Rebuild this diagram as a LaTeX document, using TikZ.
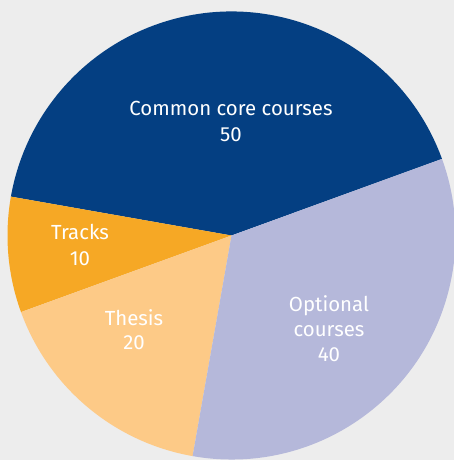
\documentclass[tikz,border=0pt]{standalone}
\usepackage{fontspec}
\setmainfont{Fira Sans}
\definecolor{bg}{RGB}{237,237,237}
\definecolor{navy}{RGB}{4,63,130}
\definecolor{lav}{RGB}{181,184,218}
\definecolor{lorange}{RGB}{253,202,135}
\definecolor{dorange}{RGB}{246,168,37}
\begin{document}
\begin{tikzpicture}[x=1pt,y=1pt,
  slice/.style={draw=none},
  lbl/.style={text=white,font=\fontsize{20.4}{24}\selectfont,anchor=base,inner sep=0pt}]
\useasboundingbox (0,0) rectangle (454,460);
\fill[bg] (0,0) rectangle (454,460);
\coordinate (c) at (231.5,224.5);
\def\R{224}
\begin{scope}
\clip (0,0) rectangle (454,460);
\fill[navy,slice] (c) -- ++(20:\R) arc[start angle=20,end angle=170,radius=\R] -- cycle;
\fill[dorange,slice] (c) -- ++(170:\R) arc[start angle=170,end angle=200,radius=\R] -- cycle;
\fill[lorange,slice] (c) -- ++(200:\R) arc[start angle=200,end angle=260,radius=\R] -- cycle;
\fill[lav,slice] (c) -- ++(260:\R) arc[start angle=260,end angle=380,radius=\R] -- cycle;
\end{scope}
\node[lbl] (core1) at (231,460-116) {Common core courses};
\node[lbl] (core2) at (231,460-141.7) {50};
\node[lbl] (tr1) at (80,460-240) {Tracks};
\node[lbl] (tr2) at (80,460-266) {10};
\node[lbl] (th1) at (134,460-325.7) {Thesis};
\node[lbl] (th2) at (134,460-350) {20};
\node[lbl] (op1) at (329,460-312) {Optional};
\node[lbl] (op2) at (329,460-337) {courses};
\node[lbl] (op3) at (329,460-362) {40};
\end{tikzpicture}
\end{document}
